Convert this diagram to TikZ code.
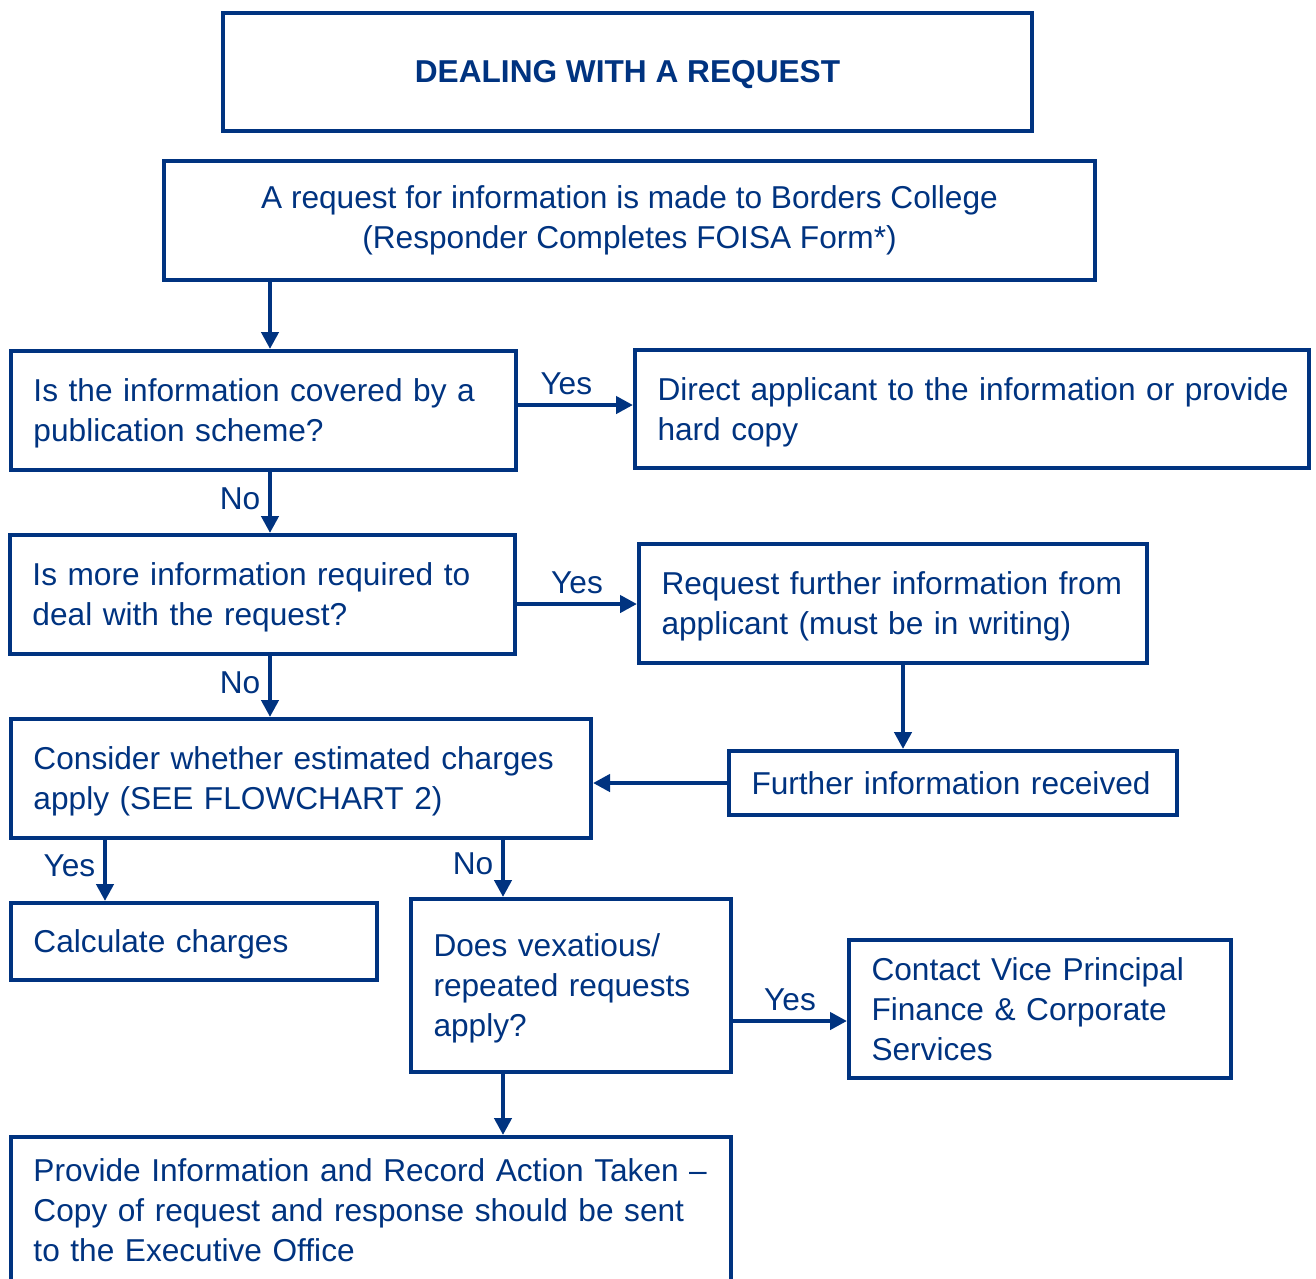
\documentclass[tikz,border=0pt]{standalone}
\usepackage{fontspec}
\setmainfont{Liberation Sans}
\usetikzlibrary{arrows.meta}
\definecolor{navy}{RGB}{0,51,128}
\newcommand{\topline}{\rule{0pt}{16.6pt}}
\newcommand{\botline}{\rule[-4pt]{0pt}{4pt}}
\begin{document}
\begin{tikzpicture}[
    box/.style={draw=navy, line width=0.08cm, text=navy, inner xsep=0.45cm, inner ysep=0pt,
      font=\fontsize{18}{22.76}\selectfont, execute at begin node=\topline, execute at end node=\botline},
    lbox/.style={box, align=left},
    cbox/.style={box, align=center},
    lbl/.style={text=navy, inner sep=0.15cm, font=\fontsize{18}{22.76}\selectfont}]
  \useasboundingbox (0,0) rectangle (26.32,-25.56);
  \node[cbox, minimum width=16.18cm, minimum height=2.36cm, font=\fontsize{18}{22.76}\selectfont\bfseries]
    (title) at (12.55,-1.43) {DEALING WITH A REQUEST};
  \node[cbox, minimum width=18.62cm, minimum height=2.38cm] (req) at (12.59,-4.41)
    {A request for information is made to Borders College\\(Responder Completes FOISA Form*)};
  \node[lbox, minimum height=2.38cm, text width=9.20cm] (pub) at (5.27,-8.21)
    {Is the information covered by a\\publication scheme?};
  \node[lbox, minimum height=2.36cm, text width=12.58cm] (direct) at (19.44,-8.18)
    {\mbox{Direct applicant to the information or provide}\\hard copy};
  \node[lbox, minimum height=2.38cm, text width=9.20cm] (more) at (5.25,-11.89)
    {Is more information required to\\deal with the request?};
  \node[lbox, minimum height=2.38cm, text width=9.26cm] (further) at (17.86,-12.07)
    {Request further information from\\applicant (must be in writing)};
  \node[lbox, minimum height=1.28cm, text width=8.06cm] (recv) at (19.06,-15.66)
    {Further information received};
  \node[lbox, minimum height=2.38cm, text width=10.70cm] (charges) at (6.02,-15.57)
    {Consider whether estimated charges\\apply (SEE FLOWCHART 2)};
  \node[lbox, minimum height=1.54cm, text width=6.42cm] (calc) at (3.88,-18.83)
    {Calculate charges};
  \node[lbox, minimum height=3.46cm, text width=5.50cm] (vex) at (11.42,-19.71)
    {Does vexatious/\\repeated requests\\apply?};
  \node[lbox, minimum height=2.76cm, text width=6.74cm] (contact) at (20.80,-20.18)
    {Contact Vice Principal\\Finance \& Corporate\\Services};
  \node[lbox, minimum height=2.92cm, text width=13.50cm] (provide) at (7.42,-24.20)
    {Provide Information and Record Action Taken --\\Copy of request and response should be sent\\to the Executive Office};
  \begin{scope}[arrow/.style={draw=navy, line width=0.09cm, -{Triangle[length=0.34cm,width=0.34cm]}}]
    \draw[arrow] (5.4,0 |- req.south) -- (5.4,0 |- pub.north);
    \draw[arrow] (pub.east |- 0,-8.1) -- node[lbl, above, pos=0.42] {Yes} (direct.west |- 0,-8.1);
    \draw[arrow] (5.4,0 |- pub.south) -- node[lbl, left, pos=0.44] {No} (5.4,0 |- more.north);
    \draw[arrow] (more.east |- 0,-12.08) -- node[lbl, above] {Yes} (further.west |- 0,-12.08);
    \draw[arrow] (18.06,0 |- further.south) -- (18.06,0 |- recv.north);
    \draw[arrow] (recv.west) -- (recv.west -| charges.east);
    \draw[arrow] (5.4,0 |- more.south) -- node[lbl, left, pos=0.44] {No} (5.4,0 |- charges.north);
    \draw[arrow] (2.1,0 |- charges.south) -- node[lbl, left, pos=0.42] {Yes} (2.1,0 |- calc.north);
    \draw[arrow] (10.06,0 |- charges.south) -- node[lbl, left, pos=0.42] {No} (10.06,0 |- vex.north);
    \draw[arrow] (vex.east |- 0,-20.42) -- node[lbl, above] {Yes} (contact.west |- 0,-20.42);
    \draw[arrow] (10.06,0 |- vex.south) -- (10.06,0 |- provide.north);
  \end{scope}
\end{tikzpicture}
\end{document}
